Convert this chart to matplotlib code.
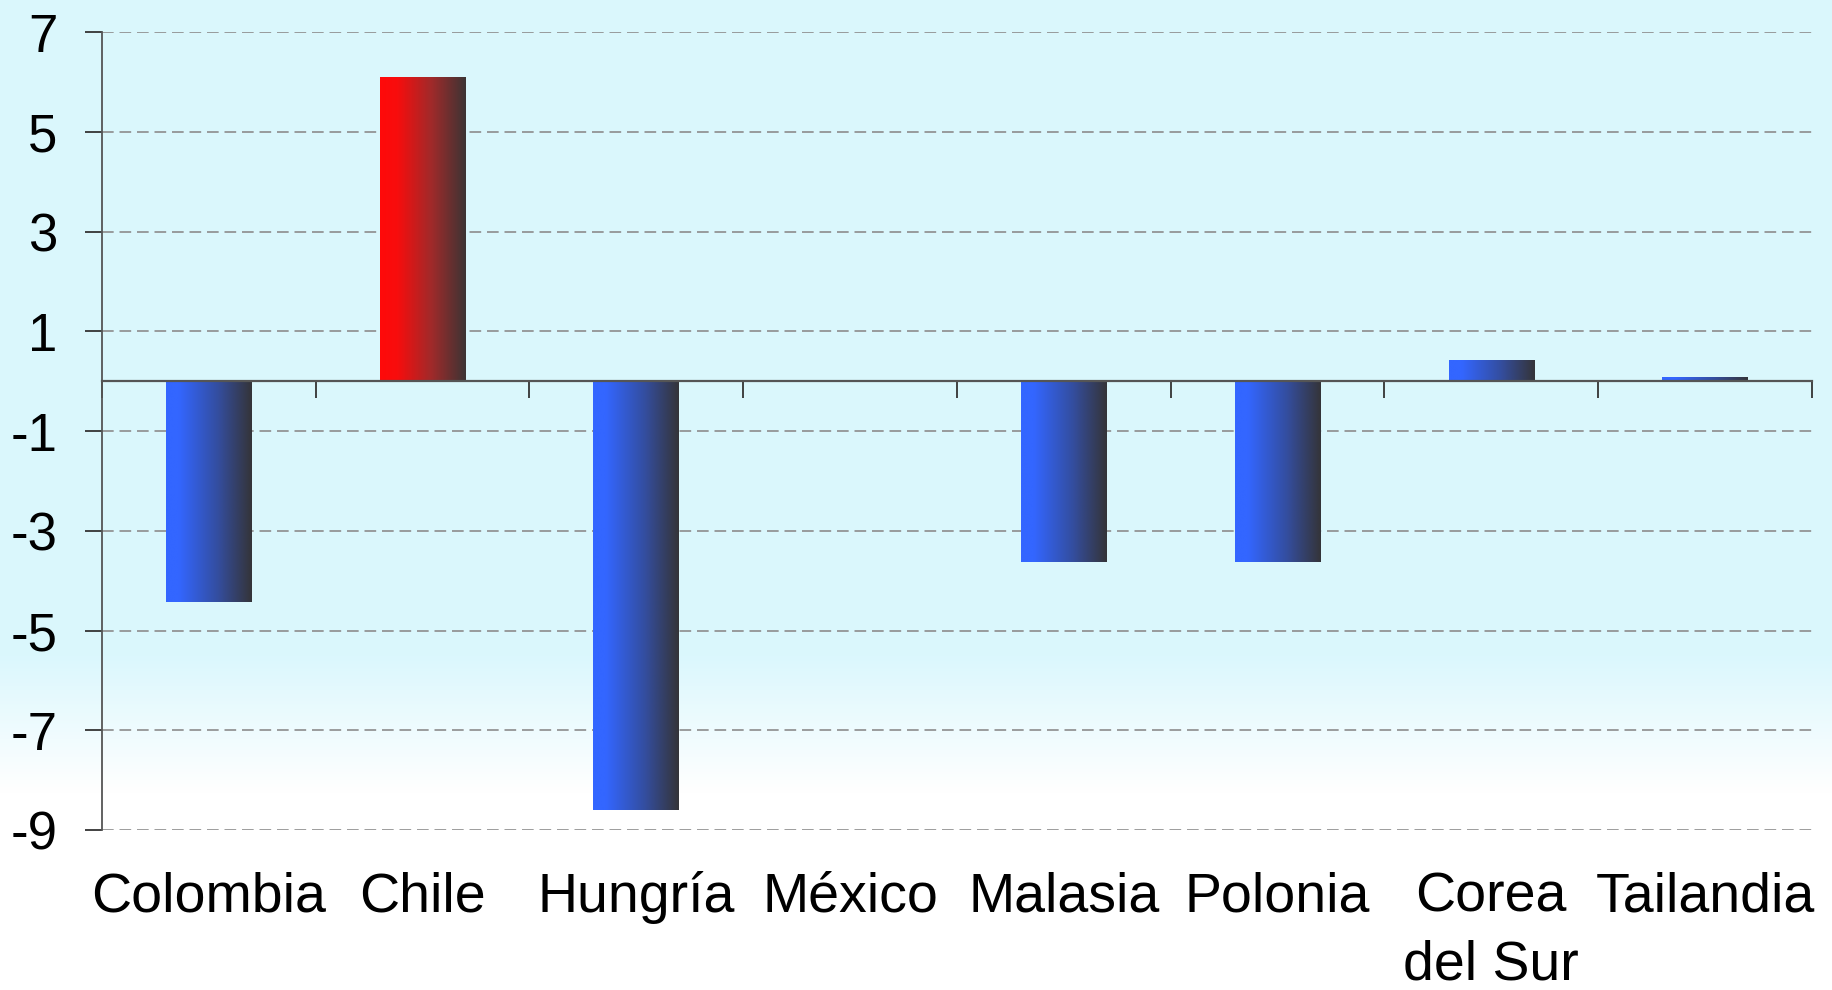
import numpy as np
import matplotlib.pyplot as plt
import matplotlib.transforms as mtransforms
from matplotlib.colors import LinearSegmentedColormap

# data
countries = ["Colombia", "Chile", "Hungría", "México", "Malasia", "Polonia",
             "Corea\ndel Sur", "Tailandia"]
values = [-4.42, 6.1, -8.6, 0.0, -3.62, -3.62, 0.43, 0.08]
highlight = [False, True, False, False, False, False, False, False]
y_ticks = [7, 5, 3, 1, -1, -3, -5, -7, -9]

plt.rcParams['font.family'] = ['Liberation Sans', 'DejaVu Sans']

fig = plt.figure(figsize=(18.33, 9.9), dpi=100)

# background: light cyan fading to white at the bottom
bg = fig.add_axes([0, 0, 1, 1], zorder=-10)
rows = np.linspace(0, 1, 400)  # 0 = top, 1 = bottom
fade = np.clip((rows - 0.66) / 0.14, 0, 1)
top_col = np.array([0.855, 0.969, 0.992])
img = top_col[None, :] * (1 - fade[:, None]) + np.ones(3)[None, :] * fade[:, None]
bg.imshow(img[:, None, :], aspect='auto', extent=[0, 1, 0, 1])
bg.axis('off')

blue_cmap = LinearSegmentedColormap.from_list(
    "blue", [(0, "#3366ff"), (0.15, "#3366ff"), (0.6, "#344ea0"), (1, "#343438")])
red_cmap = LinearSegmentedColormap.from_list(
    "red", [(0, "#ff0a0a"), (0.2, "#f80d0d"), (0.6, "#a02a2a"), (1, "#3c3434")])

ax = fig.add_axes([0.0555, 0.1616, 0.933, 0.8058])
ax.patch.set_alpha(0)

x = np.arange(len(countries))
bars = ax.bar(x, values, width=0.4, color="none", edgecolor="none", zorder=3)
grad = np.linspace(0, 1, 256).reshape(1, -1)
for bar, v, hl in zip(bars, values, highlight):
    if v == 0:
        continue
    x0, y0 = bar.get_xy()
    w, h = bar.get_width(), bar.get_height()
    im = ax.imshow(grad, cmap=red_cmap if hl else blue_cmap, aspect="auto",
                   extent=[x0, x0 + w, min(y0, y0 + h), max(y0, y0 + h)],
                   zorder=3)
    im.set_clip_path(bar)

ax.set_xlim(-0.5, len(countries) - 0.5)
ax.set_ylim(-9, 7)

ax.set_yticks(y_ticks)
ax.set_yticklabels([str(t) for t in y_ticks])
ax.tick_params(axis="y", length=12, width=1.3, color="#333333", pad=20,
               labelsize=38, direction="out")
ax.yaxis.grid(True, linestyle=(0, (7, 3.5)), color="#8c8c8c", linewidth=1.2)
ax.set_axisbelow(True)

ax.set_xticks(np.arange(-0.5, len(countries), 1))
ax.set_xticklabels([])
ax.tick_params(axis="x", length=12, width=1.3, color="#333333", direction="out")

ax.spines["top"].set_visible(False)
ax.spines["right"].set_visible(False)
ax.spines["bottom"].set_position(("data", 0))
ax.spines["bottom"].set_color("#555555")
ax.spines["bottom"].set_linewidth(1.6)
ax.spines["bottom"].set_zorder(4)
ax.spines["left"].set_color("#555555")
ax.spines["left"].set_linewidth(1.3)

trans = mtransforms.blended_transform_factory(ax.transData, ax.transAxes)
for i, name in enumerate(countries):
    ax.text(x[i], -0.052, name, transform=trans, ha="center", va="top",
            fontsize=40, linespacing=1.4)

fig.savefig("out.png", dpi=100)
